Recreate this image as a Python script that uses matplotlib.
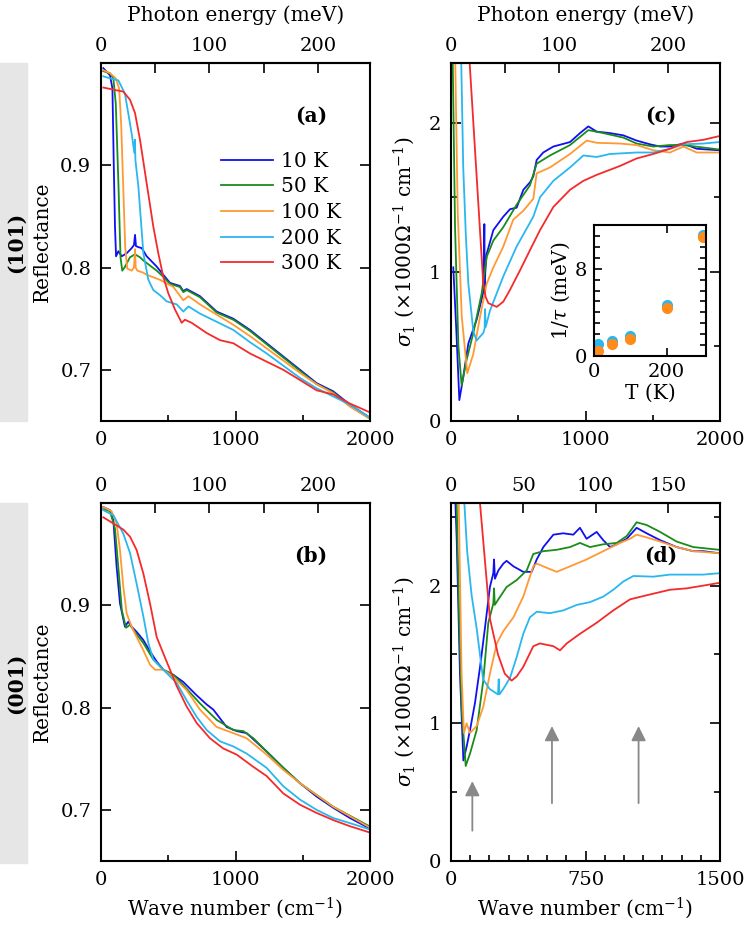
import matplotlib.pyplot as plt
from matplotlib.patches import Rectangle
from matplotlib.ticker import MultipleLocator, FixedLocator

plt.rcParams['font.family'] = 'DejaVu Serif'
plt.rcParams['mathtext.fontset'] = 'dejavuserif'
plt.rcParams['font.size'] = 14.5
plt.rcParams['xtick.labelsize'] = 14
plt.rcParams['ytick.labelsize'] = 14

temps = ['10 K', '50 K', '100 K', '200 K', '300 K']
colors = ['#1010f0', '#1a8c1a', '#ff9933', '#2ab7ef', '#f52a2a']

# ---- (a) reflectance, (101) ----
a_x_10 = [17, 67, 85, 95, 104, 112, 129, 154, 191, 228, 245, 253, 260, 278, 303, 340, 414, 463, 513, 587, 612, 637, 736, 860, 984, 1108, 1232, 1356, 1480, 1603, 1727, 1851, 1990]
a_y_10 = [0.995, 0.988, 0.975, 0.90, 0.84, 0.811, 0.816, 0.811, 0.814, 0.819, 0.822, 0.832, 0.821, 0.820, 0.819, 0.811, 0.801, 0.793, 0.785, 0.782, 0.777, 0.779, 0.772, 0.757, 0.750, 0.739, 0.726, 0.713, 0.700, 0.687, 0.679, 0.666, 0.654]
a_x_50 = [17, 67, 92, 110, 130, 145, 158, 175, 191, 215, 253, 265, 290, 315, 364, 414, 463, 513, 587, 612, 637, 736, 860, 984, 1108, 1232, 1356, 1480, 1603, 1727, 1851, 1990]
a_y_50 = [0.992, 0.99, 0.985, 0.96, 0.88, 0.81, 0.797, 0.800, 0.804, 0.810, 0.813, 0.812, 0.810, 0.807, 0.802, 0.797, 0.791, 0.784, 0.781, 0.776, 0.778, 0.771, 0.756, 0.749, 0.738, 0.725, 0.712, 0.699, 0.686, 0.678, 0.665, 0.653]
a_x_100 = [17, 67, 110, 135, 150, 165, 180, 195, 228, 245, 253, 258, 270, 315, 340, 439, 538, 612, 650, 736, 860, 984, 1108, 1232, 1356, 1480, 1603, 1727, 1851, 1990]
a_y_100 = [0.993, 0.99, 0.985, 0.975, 0.94, 0.88, 0.82, 0.799, 0.797, 0.800, 0.818, 0.800, 0.797, 0.795, 0.793, 0.788, 0.781, 0.768, 0.772, 0.764, 0.754, 0.744, 0.733, 0.721, 0.709, 0.697, 0.686, 0.677, 0.664, 0.653]
a_x_200 = [17, 67, 129, 178, 228, 248, 252, 256, 278, 315, 352, 389, 439, 488, 563, 612, 650, 736, 860, 984, 1108, 1232, 1356, 1480, 1603, 1727, 1851, 1990]
a_y_200 = [0.987, 0.985, 0.983, 0.970, 0.931, 0.912, 0.925, 0.905, 0.879, 0.814, 0.788, 0.778, 0.773, 0.767, 0.764, 0.757, 0.762, 0.755, 0.747, 0.739, 0.727, 0.716, 0.704, 0.692, 0.682, 0.674, 0.666, 0.654]
a_x_300 = [17, 92, 166, 216, 253, 290, 340, 389, 426, 463, 500, 550, 600, 624, 674, 786, 885, 984, 1108, 1232, 1356, 1480, 1603, 1727, 1851, 1990]
a_y_300 = [0.976, 0.974, 0.972, 0.964, 0.951, 0.925, 0.882, 0.840, 0.814, 0.791, 0.775, 0.759, 0.746, 0.749, 0.746, 0.736, 0.729, 0.726, 0.716, 0.708, 0.700, 0.690, 0.680, 0.676, 0.667, 0.659]

# ---- (b) reflectance, (001) ----
b_x_10 = [17, 67, 92, 116, 141, 178, 203, 228, 265, 315, 364, 414, 463, 538, 612, 711, 786, 835, 934, 1009, 1083, 1232, 1356, 1480, 1603, 1727, 1851, 1995]
b_y_10 = [0.996, 0.993, 0.983, 0.938, 0.902, 0.879, 0.884, 0.879, 0.874, 0.866, 0.855, 0.845, 0.837, 0.832, 0.825, 0.812, 0.803, 0.798, 0.781, 0.777, 0.775, 0.757, 0.741, 0.726, 0.713, 0.702, 0.692, 0.682]
b_x_50 = [17, 67, 104, 130, 155, 186, 216, 240, 315, 389, 463, 538, 612, 736, 860, 984, 1058, 1133, 1232, 1356, 1480, 1727, 1995]
b_y_50 = [0.994, 0.992, 0.975, 0.935, 0.895, 0.878, 0.881, 0.876, 0.863, 0.847, 0.837, 0.832, 0.822, 0.804, 0.788, 0.778, 0.777, 0.770, 0.757, 0.741, 0.726, 0.703, 0.684]
b_x_100 = [17, 79, 116, 141, 166, 191, 228, 265, 315, 364, 401, 463, 538, 637, 736, 860, 984, 1083, 1232, 1356, 1480, 1727, 1995]
b_y_100 = [0.996, 0.992, 0.980, 0.954, 0.918, 0.892, 0.879, 0.869, 0.856, 0.842, 0.837, 0.837, 0.830, 0.817, 0.798, 0.781, 0.775, 0.770, 0.754, 0.739, 0.726, 0.703, 0.683]
b_x_200 = [17, 92, 166, 216, 265, 315, 352, 389, 463, 563, 637, 711, 786, 885, 984, 1083, 1232, 1356, 1480, 1603, 1727, 1851, 1995]
b_y_200 = [0.993, 0.988, 0.970, 0.951, 0.921, 0.889, 0.863, 0.847, 0.837, 0.824, 0.807, 0.791, 0.778, 0.767, 0.762, 0.755, 0.741, 0.723, 0.710, 0.700, 0.692, 0.687, 0.681]
b_x_300 = [17, 92, 166, 216, 265, 315, 364, 414, 463, 513, 563, 637, 711, 810, 909, 1009, 1133, 1232, 1356, 1480, 1603, 1727, 1851, 1995]
b_y_300 = [0.986, 0.980, 0.974, 0.967, 0.954, 0.931, 0.902, 0.869, 0.853, 0.837, 0.821, 0.801, 0.785, 0.770, 0.760, 0.754, 0.742, 0.733, 0.716, 0.705, 0.697, 0.690, 0.684, 0.678]

# ---- (c) sigma_1, (101) ----
c_x_10 = [17, 40, 62, 92, 129, 191, 240, 248, 251, 255, 265, 315, 389, 439, 488, 538, 587, 612, 637, 686, 761, 885, 959, 1021, 1083, 1182, 1281, 1380, 1479, 1554, 1628, 1728, 1827, 1995]
c_y_10 = [1.03, 0.6, 0.14, 0.30, 0.52, 0.68, 0.86, 1.32, 0.90, 1.0, 1.12, 1.28, 1.37, 1.42, 1.43, 1.55, 1.60, 1.64, 1.75, 1.80, 1.84, 1.87, 1.93, 1.975, 1.94, 1.93, 1.915, 1.88, 1.855, 1.84, 1.84, 1.86, 1.825, 1.815]
c_x_50 = [10, 30, 55, 79, 116, 166, 228, 265, 315, 389, 488, 587, 637, 736, 885, 1021, 1133, 1281, 1380, 1504, 1628, 1728, 1995]
c_y_50 = [2.6, 1.3, 0.5, 0.24, 0.41, 0.59, 0.855, 1.10, 1.21, 1.30, 1.45, 1.58, 1.725, 1.78, 1.85, 1.95, 1.93, 1.90, 1.86, 1.84, 1.85, 1.85, 1.82]
c_x_100 = [28, 50, 80, 121, 166, 216, 265, 315, 389, 463, 538, 612, 637, 736, 885, 1009, 1083, 1257, 1380, 1504, 1628, 1728, 1827, 1995]
c_y_100 = [2.6, 1.4, 0.7, 0.32, 0.45, 0.70, 0.92, 1.03, 1.17, 1.35, 1.41, 1.49, 1.66, 1.70, 1.79, 1.88, 1.865, 1.86, 1.85, 1.815, 1.80, 1.84, 1.80, 1.80]
c_x_200 = [72, 91, 110, 129, 166, 191, 240, 250, 253, 258, 290, 389, 488, 612, 662, 761, 885, 984, 1083, 1182, 1380, 1504, 1628, 1728, 1876, 1995]
c_y_200 = [2.6, 1.7, 1.25, 0.92, 0.60, 0.54, 0.59, 0.62, 0.75, 0.63, 0.74, 0.97, 1.17, 1.37, 1.50, 1.61, 1.70, 1.78, 1.77, 1.79, 1.80, 1.80, 1.825, 1.855, 1.86, 1.87]
c_x_300 = [125, 240, 258, 278, 340, 389, 439, 513, 587, 662, 761, 885, 984, 1083, 1257, 1380, 1504, 1628, 1752, 1876, 1995]
c_y_300 = [2.6, 0.92, 0.83, 0.79, 0.765, 0.80, 0.88, 1.01, 1.145, 1.28, 1.435, 1.55, 1.61, 1.65, 1.71, 1.76, 1.79, 1.825, 1.87, 1.885, 1.91]

# ---- (d) sigma_1, (001) ----
d_x_10 = [22, 32, 50, 69, 87, 106, 134, 162, 190, 217, 236, 240, 245, 264, 292, 310, 348, 403, 450, 478, 515, 571, 626, 682, 719, 756, 812, 849, 887, 924, 980, 1035, 1091, 1166, 1258, 1351, 1407, 1496]
d_y_10 = [2.7, 2.33, 1.36, 0.73, 0.83, 0.95, 1.15, 1.41, 1.70, 1.99, 2.09, 2.19, 2.05, 2.11, 2.16, 2.18, 2.14, 2.10, 2.10, 2.19, 2.28, 2.37, 2.38, 2.37, 2.42, 2.34, 2.39, 2.33, 2.28, 2.30, 2.34, 2.42, 2.38, 2.33, 2.28, 2.25, 2.25, 2.235]
d_x_50 = [30, 45, 60, 82, 106, 143, 180, 208, 236, 240, 244, 264, 310, 366, 422, 459, 515, 589, 664, 719, 775, 849, 924, 980, 1035, 1091, 1166, 1258, 1351, 1496]
d_y_50 = [2.7, 1.8, 1.1, 0.69, 0.78, 0.95, 1.31, 1.73, 1.87, 1.98, 1.86, 1.90, 1.99, 2.04, 2.11, 2.23, 2.25, 2.26, 2.28, 2.31, 2.28, 2.30, 2.31, 2.36, 2.46, 2.44, 2.39, 2.32, 2.28, 2.26]
d_x_100 = [42, 59, 72, 87, 106, 143, 180, 217, 255, 292, 348, 403, 459, 478, 533, 589, 664, 756, 849, 942, 998, 1035, 1091, 1166, 1258, 1351, 1496]
d_y_100 = [2.7, 1.36, 0.93, 1.0, 0.93, 0.98, 1.12, 1.36, 1.58, 1.67, 1.77, 1.92, 2.14, 2.16, 2.13, 2.10, 2.14, 2.19, 2.25, 2.31, 2.34, 2.37, 2.35, 2.32, 2.28, 2.25, 2.235]
d_x_200 = [70, 90, 115, 143, 179, 215, 250, 262, 266, 270, 292, 329, 366, 403, 440, 478, 552, 626, 701, 775, 849, 905, 961, 1017, 1128, 1221, 1314, 1407, 1496]
d_y_200 = [2.7, 2.25, 1.93, 1.69, 1.32, 1.25, 1.22, 1.21, 1.32, 1.21, 1.25, 1.33, 1.48, 1.65, 1.77, 1.81, 1.80, 1.82, 1.86, 1.88, 1.92, 1.97, 2.03, 2.07, 2.065, 2.08, 2.08, 2.08, 2.09]
d_x_300 = [155, 217, 262, 300, 338, 366, 403, 459, 496, 571, 608, 645, 719, 812, 905, 998, 1091, 1221, 1314, 1407, 1496]
d_y_300 = [2.7, 1.76, 1.50, 1.36, 1.31, 1.34, 1.41, 1.56, 1.58, 1.56, 1.53, 1.58, 1.65, 1.73, 1.82, 1.90, 1.93, 1.97, 1.98, 2.00, 2.02]

# ---- inset: scattering rate ----
inset_T = [10, 50, 100, 200, 300]
rate_blue = [1.1, 1.35, 1.8, 4.7, 11.1]
rate_orange = [0.45, 1.1, 1.6, 4.4, 10.9]

# ---- arrows in (d): (wave number, tail, tip) ----
arrow_x = [119, 563, 1046]
arrow_tail = [0.2, 0.4, 0.4]
arrow_tip = [0.6, 1.0, 1.0]


def cm2mev(x):
    return x / 8.0655


def mev2cm(e):
    return e * 8.0655


def style(ax):
    ax.tick_params(which='both', direction='in', right=True, top=False, width=1.2, pad=7)
    ax.tick_params(which='major', length=7)
    ax.tick_params(which='minor', length=4)
    for s in ax.spines.values():
        s.set_linewidth(1.5)


def top_axis(ax, major, minor=None):
    sec = ax.secondary_xaxis('top', functions=(cm2mev, mev2cm))
    sec.xaxis.set_major_locator(FixedLocator(major))
    if minor:
        sec.xaxis.set_minor_locator(FixedLocator(minor))
    sec.tick_params(which='both', direction='in', width=1.2, pad=6)
    sec.tick_params(which='major', length=7)
    sec.tick_params(which='minor', length=7)
    sec.spines['top'].set_linewidth(1.5)
    return sec


fig = plt.figure(figsize=(7.48, 9.26), dpi=100)
W, H = 748, 926

# gray side bars with sample orientation
fig.patches.append(Rectangle((0, 1 - 421 / H), 27 / W, 358 / H, transform=fig.transFigure, color='#e6e6e6', zorder=0))
fig.patches.append(Rectangle((0, 1 - 863 / H), 27 / W, 360 / H, transform=fig.transFigure, color='#e6e6e6', zorder=0))
fig.text(16 / W, 1 - 242 / H, '(101)', rotation=90, ha='center', va='center', fontweight='bold')
fig.text(16 / W, 1 - 683 / H, '(001)', rotation=90, ha='center', va='center', fontweight='bold')

ax_a = fig.add_axes([101 / W, 1 - 421 / H, 269 / W, 358 / H])
ax_c = fig.add_axes([451 / W, 1 - 421 / H, 269 / W, 358 / H])
ax_b = fig.add_axes([101 / W, 1 - 861 / H, 269 / W, 358 / H])
ax_d = fig.add_axes([451 / W, 1 - 861 / H, 269 / W, 358 / H])

lw = 1.3
a_data = [(a_x_10, a_y_10), (a_x_50, a_y_50), (a_x_100, a_y_100), (a_x_200, a_y_200), (a_x_300, a_y_300)]
b_data = [(b_x_10, b_y_10), (b_x_50, b_y_50), (b_x_100, b_y_100), (b_x_200, b_y_200), (b_x_300, b_y_300)]
c_data = [(c_x_10, c_y_10), (c_x_50, c_y_50), (c_x_100, c_y_100), (c_x_200, c_y_200), (c_x_300, c_y_300)]
d_data = [(d_x_10, d_y_10), (d_x_50, d_y_50), (d_x_100, d_y_100), (d_x_200, d_y_200), (d_x_300, d_y_300)]

for i in range(5):
    ax_a.plot(a_data[i][0], a_data[i][1], color=colors[i], lw=lw, label=temps[i])
    ax_b.plot(b_data[i][0], b_data[i][1], color=colors[i], lw=lw)
    ax_c.plot(c_data[i][0], c_data[i][1], color=colors[i], lw=lw)
    ax_d.plot(d_data[i][0], d_data[i][1], color=colors[i], lw=lw)

secs = {}
for ax in [ax_a, ax_b]:
    ax.set_xlim(0, 2000)
    ax.set_ylim(0.65, 1.0)
    ax.xaxis.set_major_locator(MultipleLocator(1000))
    ax.xaxis.set_minor_locator(MultipleLocator(500))
    ax.yaxis.set_major_locator(FixedLocator([0.7, 0.8, 0.9]))
    ax.set_ylabel('Reflectance')
    ax.yaxis.set_label_coords(-0.182, 0.5)
    style(ax)
    secs[ax] = top_axis(ax, [0, 100, 200], [50, 150])

ax_c.set_xlim(0, 2000)
ax_c.set_ylim(0, 2.4)
ax_c.xaxis.set_major_locator(MultipleLocator(1000))
ax_c.xaxis.set_minor_locator(MultipleLocator(500))
ax_d.set_xlim(0, 1500)
ax_d.set_ylim(0, 2.6)
ax_d.xaxis.set_major_locator(MultipleLocator(750))
ax_d.xaxis.set_minor_locator(MultipleLocator(1500 / 14))
for ax in [ax_c, ax_d]:
    ax.yaxis.set_major_locator(MultipleLocator(1))
    ax.yaxis.set_minor_locator(MultipleLocator(0.5))
    ax.set_ylabel(r'$\sigma_1$ ($\times$1000$\Omega^{-1}$ cm$^{-1}$)')
    ax.yaxis.set_label_coords(-0.126, 0.5)
    style(ax)

secs[ax_c] = top_axis(ax_c, [0, 100, 200], [50, 150])
secs[ax_d] = top_axis(ax_d, [0, 50, 100, 150])
for ax in [ax_a, ax_c]:
    secs[ax].set_xlabel('Photon energy (meV)', labelpad=11)

for ax in [ax_b, ax_d]:
    ax.set_xlabel(r'Wave number (cm$^{-1}$)', labelpad=5)

for ax, lab in [(ax_a, '(a)'), (ax_b, '(b)'), (ax_c, '(c)'), (ax_d, '(d)')]:
    ax.text(0.78, 0.853, lab, transform=ax.transAxes, ha='center', va='center', fontweight='bold')

ax_a.legend(loc='upper left', bbox_to_anchor=(0.446, 0.752), frameon=False, handlelength=2.6,
            handletextpad=0.4, labelspacing=0.33, borderpad=0, borderaxespad=0)

for x, t0, t1 in zip(arrow_x, arrow_tail, arrow_tip):
    ax_d.annotate('', xy=(x, t1), xytext=(x, t0),
                  arrowprops=dict(arrowstyle='-|>', color='#888888', lw=1.3, mutation_scale=22))

# inset in (c)
ins = fig.add_axes([594 / W, 1 - 356 / H, 112 / W, 131 / H])
ins.plot(inset_T, rate_blue, 'o', color='#2ab7ef', ms=7)
ins.plot(inset_T, rate_orange, 'o', color='#ff8c1a', ms=7)
ins.set_xlim(0, 308)
ins.set_ylim(0, 12)
ins.xaxis.set_major_locator(FixedLocator([0, 200]))
ins.yaxis.set_major_locator(FixedLocator([0, 8]))
ins.yaxis.set_minor_locator(MultipleLocator(1))
ins.tick_params(which='both', direction='in', top=True, right=True, width=1.2, pad=5)
ins.tick_params(which='major', length=6)
ins.tick_params(which='minor', length=4)
for s in ins.spines.values():
    s.set_linewidth(1.5)
ins.set_xlabel('T (K)', labelpad=2)
ins.set_ylabel(r'1/$\tau$ (meV)', labelpad=2)

fig.savefig('out.png', dpi=100)
